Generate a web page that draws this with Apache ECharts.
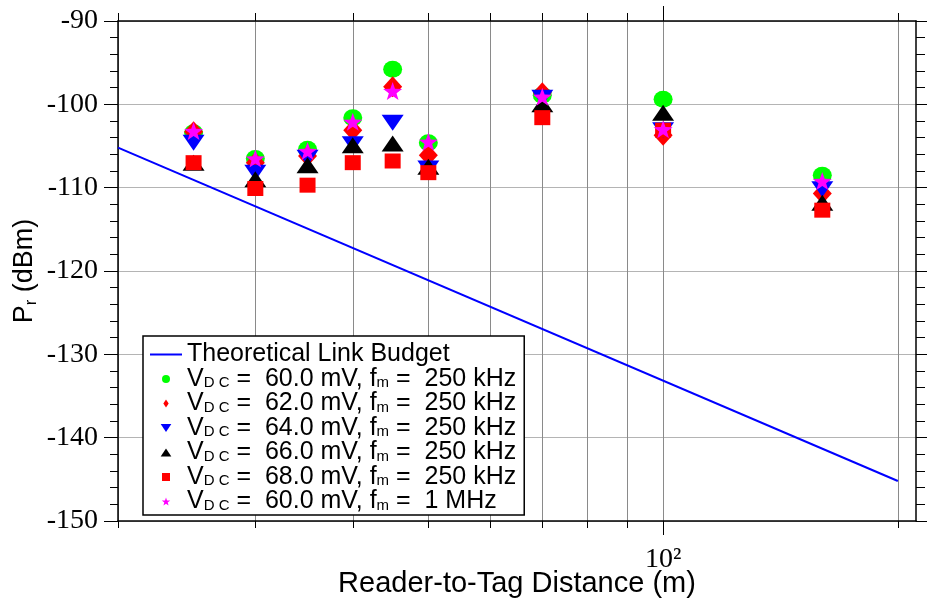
<!DOCTYPE html>
<html>
<head>
<meta charset="utf-8">
<script src="https://cdn.jsdelivr.net/npm/echarts@6/dist/echarts.min.js"></script>
<style>
  html, body { margin: 0; padding: 0; background: #fff; }
  #chart { width: 927px; height: 613px; }
</style>
</head>
<body>
<div id="chart"></div>
<script>
// Reader-to-tag distances (m) where measurements were taken
const distances = [25, 30, 35, 40, 45, 50, 70, 100, 160];

// Received power Pr (dBm) per measurement setting
const prVdc60f250k = [-103.4, -106.5, -105.4, -101.6, -95.8, -104.6, -98.9, -99.4, -108.5];
const prVdc62f250k = [-103.3, -107.0, -106.2, -103.1, -97.9, -106.1, -98.6, -103.7, -110.7];
const prVdc64f250k = [-104.6, -108.2, -106.4, -104.8, -102.2, -107.7, -99.2, -103.1, -110.2];
const prVdc66f250k = [-107.0, -109.0, -107.3, -104.9, -104.7, -107.5, -100.0, -101.0, -111.8];
const prVdc68f250k = [-107.0, -110.1, -109.7, -107.0, -106.8, -108.2, -101.6, -103.1, -112.7];
const prVdc60f1M   = [-103.2, -106.5, -105.6, -102.1, -98.4, -104.5, -99.1, -103.0, -109.2];

// Theoretical link budget end points
const budgetDistances = [20, 200];
const budgetPr = [-105.2, -145.2];

// Legend wording
const vdcValues = ['60.0', '62.0', '64.0', '66.0', '68.0', '60.0'];
const fmValues = ['250 kHz', '250 kHz', '250 kHz', '250 kHz', '250 kHz', '1 MHz'];
const budgetName = 'Theoretical Link Budget';

// Axis ticks
const xGridValues = [20, 30, 40, 50, 60, 70, 80, 90, 100, 200];
const xDecadeValues = [100];
const xDecadeLabel = '10\u00b2';
const xMin = 20, xMax = 211;
const yMin = -150, yMax = -90, yStep = 10;

const measured = [prVdc60f250k, prVdc62f250k, prVdc64f250k, prVdc66f250k, prVdc68f250k, prVdc60f1M];
const colors = ['#00ff00', '#ff0000', '#0000ff', '#000000', '#ff0000', '#ff00ff'];

const STAR = 'path://M50,0L61.76,33.82L97.55,34.55L69.02,56.18L79.39,90.45L50,70L20.61,90.45L30.98,56.18L2.45,34.55L38.24,33.82Z';
const DOWN_TRI = 'path://M0,0L10,0L5,10Z';
const symbols = ['circle', 'diamond', DOWN_TRI, 'triangle', 'rect', STAR];
const symbolSizes = [[19, 17], [19, 21], [22, 16], [22, 16], [16, 15], [19, 18]];

// Small legend glyphs (aspect ratio kept inside the legend box)
const legendIcons = [
  'circle',
  'path://M3,0L6,4.5L3,9L0,4.5Z',
  'path://M0,0L8,0L4,6Z',
  'path://M4,0L8,6L0,6Z',
  'path://M0,0L7,0L7,7L0,7Z',
  STAR
];
const LINE_ICON = 'path://M0,0L32,0L32,2L0,2Z';

const seriesNames = vdcValues.map((v, i) => 'VDC = ' + v + ' mV, fm = ' + fmValues[i]);

const pairs = (xs, ys) => xs.map((x, i) => [x, ys[i]]);

const series = [{
  name: budgetName,
  type: 'line',
  data: pairs(budgetDistances, budgetPr),
  showSymbol: false,
  symbol: 'none',
  lineStyle: { color: '#0000ff', width: 2 },
  itemStyle: { color: '#0000ff' },
  z: 2
}];
measured.forEach((vals, i) => {
  series.push({
    name: seriesNames[i],
    type: 'scatter',
    data: pairs(distances, vals),
    symbol: symbols[i],
    symbolSize: symbolSizes[i],
    itemStyle: { color: colors[i], opacity: 1 },
    z: 3 + i
  });
});

const serif = 'Liberation Serif';
const sans = 'Liberation Sans';
const xBase = { type: 'log', logBase: 10, min: xMin, max: xMax, gridIndex: 0 };
const black = { color: '#000', width: 1 };

const chart = echarts.init(document.getElementById('chart'), null, { renderer: 'canvas' });
chart.setOption({
  animation: false,
  backgroundColor: '#fff',
  grid: { left: 118, right: 11, top: 21, bottom: 92, containLabel: false, outerBoundsMode: 'none' },
  xAxis: [
    Object.assign({}, xBase, {
      position: 'bottom',
      axisLine: { show: true, onZero: false, lineStyle: { color: '#000', width: 1.5 } },
      axisTick: { show: true, inside: false, length: 7, customValues: xGridValues, lineStyle: black },
      minorTick: { show: false },
      axisLabel: {
        show: true,
        customValues: xDecadeValues,
        margin: 25,
        fontFamily: serif,
        fontSize: 28,
        color: '#000',
        formatter: () => xDecadeLabel
      },
      splitLine: { show: true, lineStyle: { color: '#8a8a8a', width: 1 } },
      name: 'Reader-to-Tag Distance (m)',
      nameLocation: 'middle',
      nameGap: 48,
      nameMoveOverlap: false,
      nameTextStyle: { fontFamily: sans, fontSize: 29, lineHeight: 30, color: '#000' }
    }),
    Object.assign({}, xBase, {
      position: 'bottom',
      axisLine: { show: false, onZero: false },
      axisTick: { show: true, inside: false, length: 14, customValues: xDecadeValues, lineStyle: black },
      axisLabel: { show: false },
      splitLine: { show: false }
    }),
    Object.assign({}, xBase, {
      position: 'top',
      axisLine: { show: true, onZero: false, lineStyle: { color: '#000', width: 1.5 } },
      axisTick: { show: true, inside: false, length: 8, customValues: xGridValues, lineStyle: black },
      axisLabel: { show: false },
      splitLine: { show: false }
    }),
    Object.assign({}, xBase, {
      position: 'top',
      axisLine: { show: false, onZero: false },
      axisTick: { show: true, inside: false, length: 15, customValues: xDecadeValues, lineStyle: black },
      axisLabel: { show: false },
      splitLine: { show: false }
    })
  ],
  yAxis: [
    {
      type: 'value', min: yMin, max: yMax, interval: yStep, position: 'left',
      axisLine: { show: true, onZero: false, lineStyle: { color: '#000', width: 1.5 } },
      axisTick: { show: true, inside: false, length: 14, lineStyle: black },
      minorTick: { show: true, splitNumber: 5, length: 8, lineStyle: black },
      axisLabel: { margin: 20, fontFamily: serif, fontSize: 28, color: '#000' },
      splitLine: { show: true, lineStyle: { color: '#b4b4b4', width: 1 } },
      name: '{a|P}{s|r}{a| (dBm)}',
      nameLocation: 'middle',
      nameGap: 78,
      nameMoveOverlap: false,
      nameTextStyle: {
        rich: {
          a: { fontFamily: sans, fontSize: 27, lineHeight: 30, color: '#000' },
          s: { fontFamily: sans, fontSize: 17, lineHeight: 17, color: '#000', verticalAlign: 'bottom' }
        }
      }
    },
    {
      type: 'value', min: yMin, max: yMax, interval: yStep, position: 'right',
      axisLine: { show: true, onZero: false, lineStyle: { color: '#000', width: 1.5 } },
      axisTick: { show: true, inside: false, length: 11, lineStyle: black },
      minorTick: { show: true, splitNumber: 5, length: 9, lineStyle: black },
      axisLabel: { show: false },
      splitLine: { show: false }
    }
  ],
  legend: {
    orient: 'vertical',
    left: 143,
    top: 336,
    padding: [6, 8, 1, 7],
    itemWidth: 32,
    itemHeight: 8,
    itemGap: -0.5,
    symbolKeepAspect: true,
    selectedMode: false,
    backgroundColor: '#fff',
    borderColor: '#000',
    borderWidth: 1.5,
    borderRadius: 0,
    data: [{ name: budgetName, icon: LINE_ICON }].concat(seriesNames.map((n, i) => ({ name: n, icon: legendIcons[i] }))),
    formatter: name => {
      const i = seriesNames.indexOf(name);
      if (i < 0) return '{t|' + name + '}';
      return '{t|V}{s|D C}{t| =  ' + vdcValues[i] + ' mV, f}{s|m}{t| =  ' + fmValues[i] + '}';
    },
    textStyle: {
      rich: {
        t: { fontFamily: sans, fontSize: 25, lineHeight: 23.5, color: '#000' },
        s: { fontFamily: sans, fontSize: 15, lineHeight: 15, color: '#000', verticalAlign: 'bottom' }
      }
    }
  },
  series: series
});
</script>
</body>
</html>
